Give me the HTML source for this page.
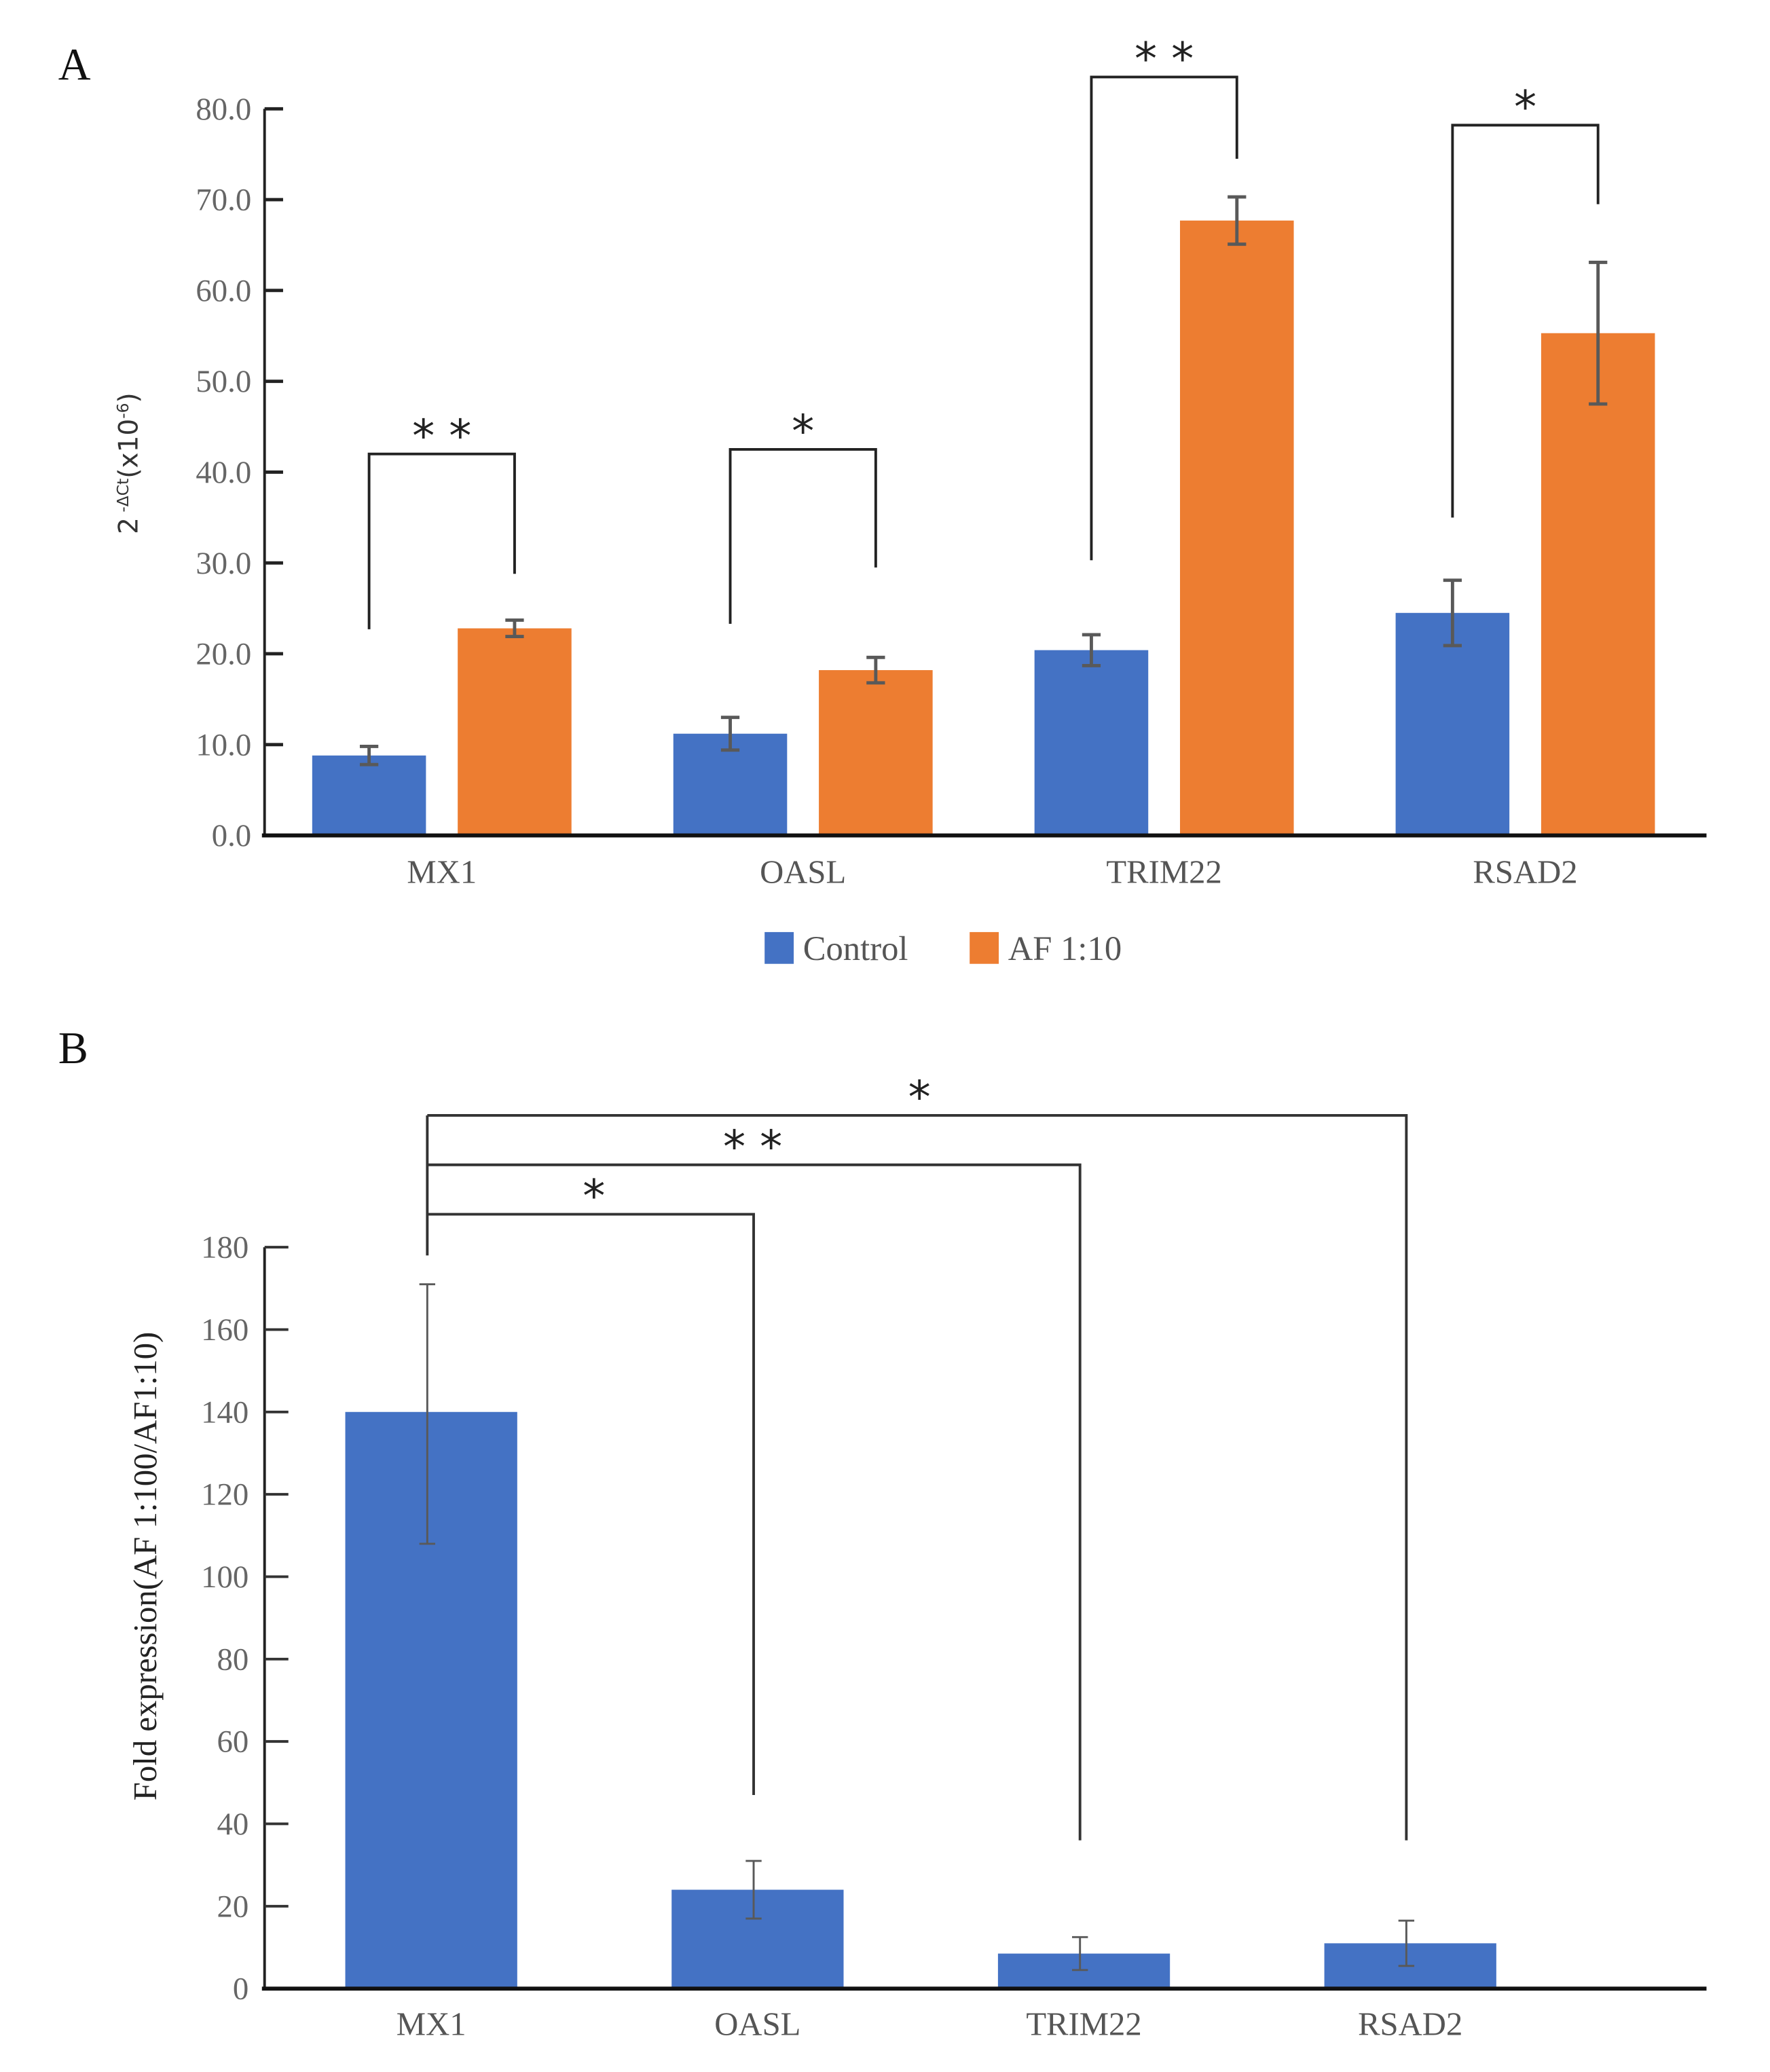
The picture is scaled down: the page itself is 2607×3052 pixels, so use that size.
<!DOCTYPE html>
<html><head><meta charset="utf-8">
<style>
html,body{margin:0;padding:0;background:#fff;}
svg{display:block;}
text{font-family:"Liberation Serif",serif;}
</style></head>
<body>
<svg id="fig" width="2607" height="3052" viewBox="0 0 1338 1565" preserveAspectRatio="none" xmlns="http://www.w3.org/2000/svg">
<text x="44" y="60" font-size="34" fill="#111">A</text>
<text x="44" y="803" font-size="34" fill="#111">B</text>
<text transform="translate(104,350) rotate(-90)" text-anchor="middle" font-size="20" fill="#333" style="font-family:'DejaVu Sans',sans-serif">2<tspan dy="-7" font-size="12"> -ΔCt</tspan><tspan dy="7">(x10</tspan><tspan dy="-7" font-size="12">-6</tspan><tspan dy="7">)</tspan></text>
<text transform="translate(118,1183) rotate(-90)" text-anchor="middle" font-size="25" fill="#222">Fold expression(AF 1:100/AF1:10)</text>
<g>
<rect x="578" y="704" width="22" height="24" fill="#4472C4"/>
<text x="607" y="725" font-size="26" fill="#555">Control</text>
<rect x="733" y="704" width="22" height="24" fill="#ED7D31"/>
<text x="762" y="725" font-size="26" fill="#555">AF 1:10</text>
</g>
<g id="ga"></g>
<g id="gb"></g>
</svg>
<script>
// Panel A data
const catsA = ["MX1","OASL","TRIM22","RSAD2"];
const controlA = [8.8, 11.2, 20.4, 24.5];
const controlErrA = [1.0, 1.8, 1.7, 3.6];
const afA = [22.8, 18.2, 67.7, 55.3];
const afErrA = [0.9, 1.4, 2.6, 7.8];
const ticksA = [0,10,20,30,40,50,60,70,80];
const bracketTopA = [42.0, 42.5, 83.5, 78.2];
const bracketLeftA = [22.7, 23.3, 30.3, 35.0];
const bracketRightA = [28.8, 29.5, 74.5, 69.5];
const starsA = ["* *","*","* *","*"];
// Panel B data
const catsB = ["MX1","OASL","TRIM22","RSAD2"];
const foldB = [140, 24, 8.5, 11];
const foldLoB = [108, 17, 4.5, 5.5];
const foldHiB = [171, 31, 12.5, 16.5];
const ticksB = [0,20,40,60,80,100,120,140,160,180];
const bracketLevelB = [188, 200, 212];
const bracketEndB = [47, 36, 36];
const starsB = ["*","* *","*"];

const NS="http://www.w3.org/2000/svg";
function mk(parent,tag,attrs,txt){const e=document.createElementNS(NS,tag);for(const k in attrs)e.setAttribute(k,attrs[k]);if(txt!==undefined)e.textContent=txt;parent.appendChild(e);return e;}

// Panel A
const ga=document.getElementById('ga');
const ax0=200, axR=1290;
const yA=v=>631-v*6.86;
const cxA=i=>334+i*273;
const bwA=86, gapA=24;
let e;
e=mk(ga,'line',{x1:ax0,y1:yA(80),x2:ax0,y2:yA(0),stroke:'#222','stroke-width':2});

ticksA.forEach(t=>{
 e=mk(ga,'line',{x1:ax0,y1:yA(t),x2:ax0+14,y2:yA(t),stroke:'#222','stroke-width':2.5});
 
 e=mk(ga,'text',{x:ax0-10,y:yA(t)+8,'text-anchor':'end','font-size':24,fill:'#666'},t.toFixed(1));
 
});
catsA.forEach((c,i)=>{
 const cx=cxA(i);
 const bars=[[controlA[i],controlErrA[i],'#4472C4',cx-gapA/2-bwA,'bar-control'],[afA[i],afErrA[i],'#ED7D31',cx+gapA/2,'bar-af']];
 bars.forEach(b=>{
  e=mk(ga,'rect',{x:b[3],y:yA(b[0]),width:bwA,height:yA(0)-yA(b[0]),fill:b[2]});
  
  const mx=b[3]+bwA/2;
  const g=mk(ga,'g',{stroke:'#595959','stroke-width':2.5,fill:'none'});
  
  mk(g,'line',{x1:mx,y1:yA(b[0]+b[1]),x2:mx,y2:yA(b[0]-b[1])});
  mk(g,'line',{x1:mx-7,y1:yA(b[0]+b[1]),x2:mx+7,y2:yA(b[0]+b[1])});
  mk(g,'line',{x1:mx-7,y1:yA(b[0]-b[1]),x2:mx+7,y2:yA(b[0]-b[1])});
 });
 const lx=cx-gapA/2-bwA/2, rx=cx+gapA/2+bwA/2;
 e=mk(ga,'polyline',{points:`${lx},${yA(bracketLeftA[i])} ${lx},${yA(bracketTopA[i])} ${rx},${yA(bracketTopA[i])} ${rx},${yA(bracketRightA[i])}`,fill:'none',stroke:'#222','stroke-width':2});
 
 e=mk(ga,'text',{x:(lx+rx)/2,y:yA(bracketTopA[i])-2,'text-anchor':'middle','font-size':34,fill:'#222',style:"font-family:'DejaVu Sans',sans-serif"},starsA[i]);
 
 e=mk(ga,'text',{x:cx,y:667,'text-anchor':'middle','font-size':25,fill:'#555'},c);
 
});
e=mk(ga,'line',{x1:ax0-2,y1:yA(0),x2:axR,y2:yA(0),stroke:'#111','stroke-width':3});


// Panel B
const gb=document.getElementById('gb');
const yB=v=>1502-v*3.111;
const cxB=i=>326+i*246.7;
const bwB=130;
e=mk(gb,'line',{x1:ax0,y1:yB(180),x2:ax0,y2:yB(0),stroke:'#222','stroke-width':2});

ticksB.forEach(t=>{
 e=mk(gb,'line',{x1:ax0,y1:yB(t),x2:ax0+18,y2:yB(t),stroke:'#333','stroke-width':2});
 
 e=mk(gb,'text',{x:ax0-12,y:yB(t)+8,'text-anchor':'end','font-size':24,fill:'#666'},String(t));
 
});
catsB.forEach((c,i)=>{
 const cx=cxB(i);
 e=mk(gb,'rect',{x:cx-bwB/2,y:yB(foldB[i]),width:bwB,height:yB(0)-yB(foldB[i]),fill:'#4472C4'});
 
 const g=mk(gb,'g',{stroke:'#595959','stroke-width':1.5,fill:'none'});
 
 mk(g,'line',{x1:cx-3,y1:yB(foldHiB[i]),x2:cx-3,y2:yB(foldLoB[i])});
 mk(g,'line',{x1:cx-9,y1:yB(foldHiB[i]),x2:cx+3,y2:yB(foldHiB[i])});
 mk(g,'line',{x1:cx-9,y1:yB(foldLoB[i]),x2:cx+3,y2:yB(foldLoB[i])});
 e=mk(gb,'text',{x:cx,y:1537,'text-anchor':'middle','font-size':25,fill:'#555'},c);
 
});
const x0b=cxB(0)-3;
e=mk(gb,'line',{x1:x0b,y1:yB(bracketLevelB[2]),x2:x0b,y2:yB(178),stroke:'#333','stroke-width':2});

bracketLevelB.forEach((lv,k)=>{
 const xe=cxB(k+1)-3;
 e=mk(gb,'polyline',{points:`${x0b},${yB(lv)} ${xe},${yB(lv)} ${xe},${yB(bracketEndB[k])}`,fill:'none',stroke:'#333','stroke-width':2});
 
 e=mk(gb,'text',{x:x0b+[126,246,372][k],y:yB(lv)-2,'text-anchor':'middle','font-size':34,fill:'#222',style:"font-family:'DejaVu Sans',sans-serif"},starsB[k]);
 
});
e=mk(gb,'line',{x1:ax0-2,y1:yB(0),x2:axR,y2:yB(0),stroke:'#111','stroke-width':3});

</script>
</body></html>
